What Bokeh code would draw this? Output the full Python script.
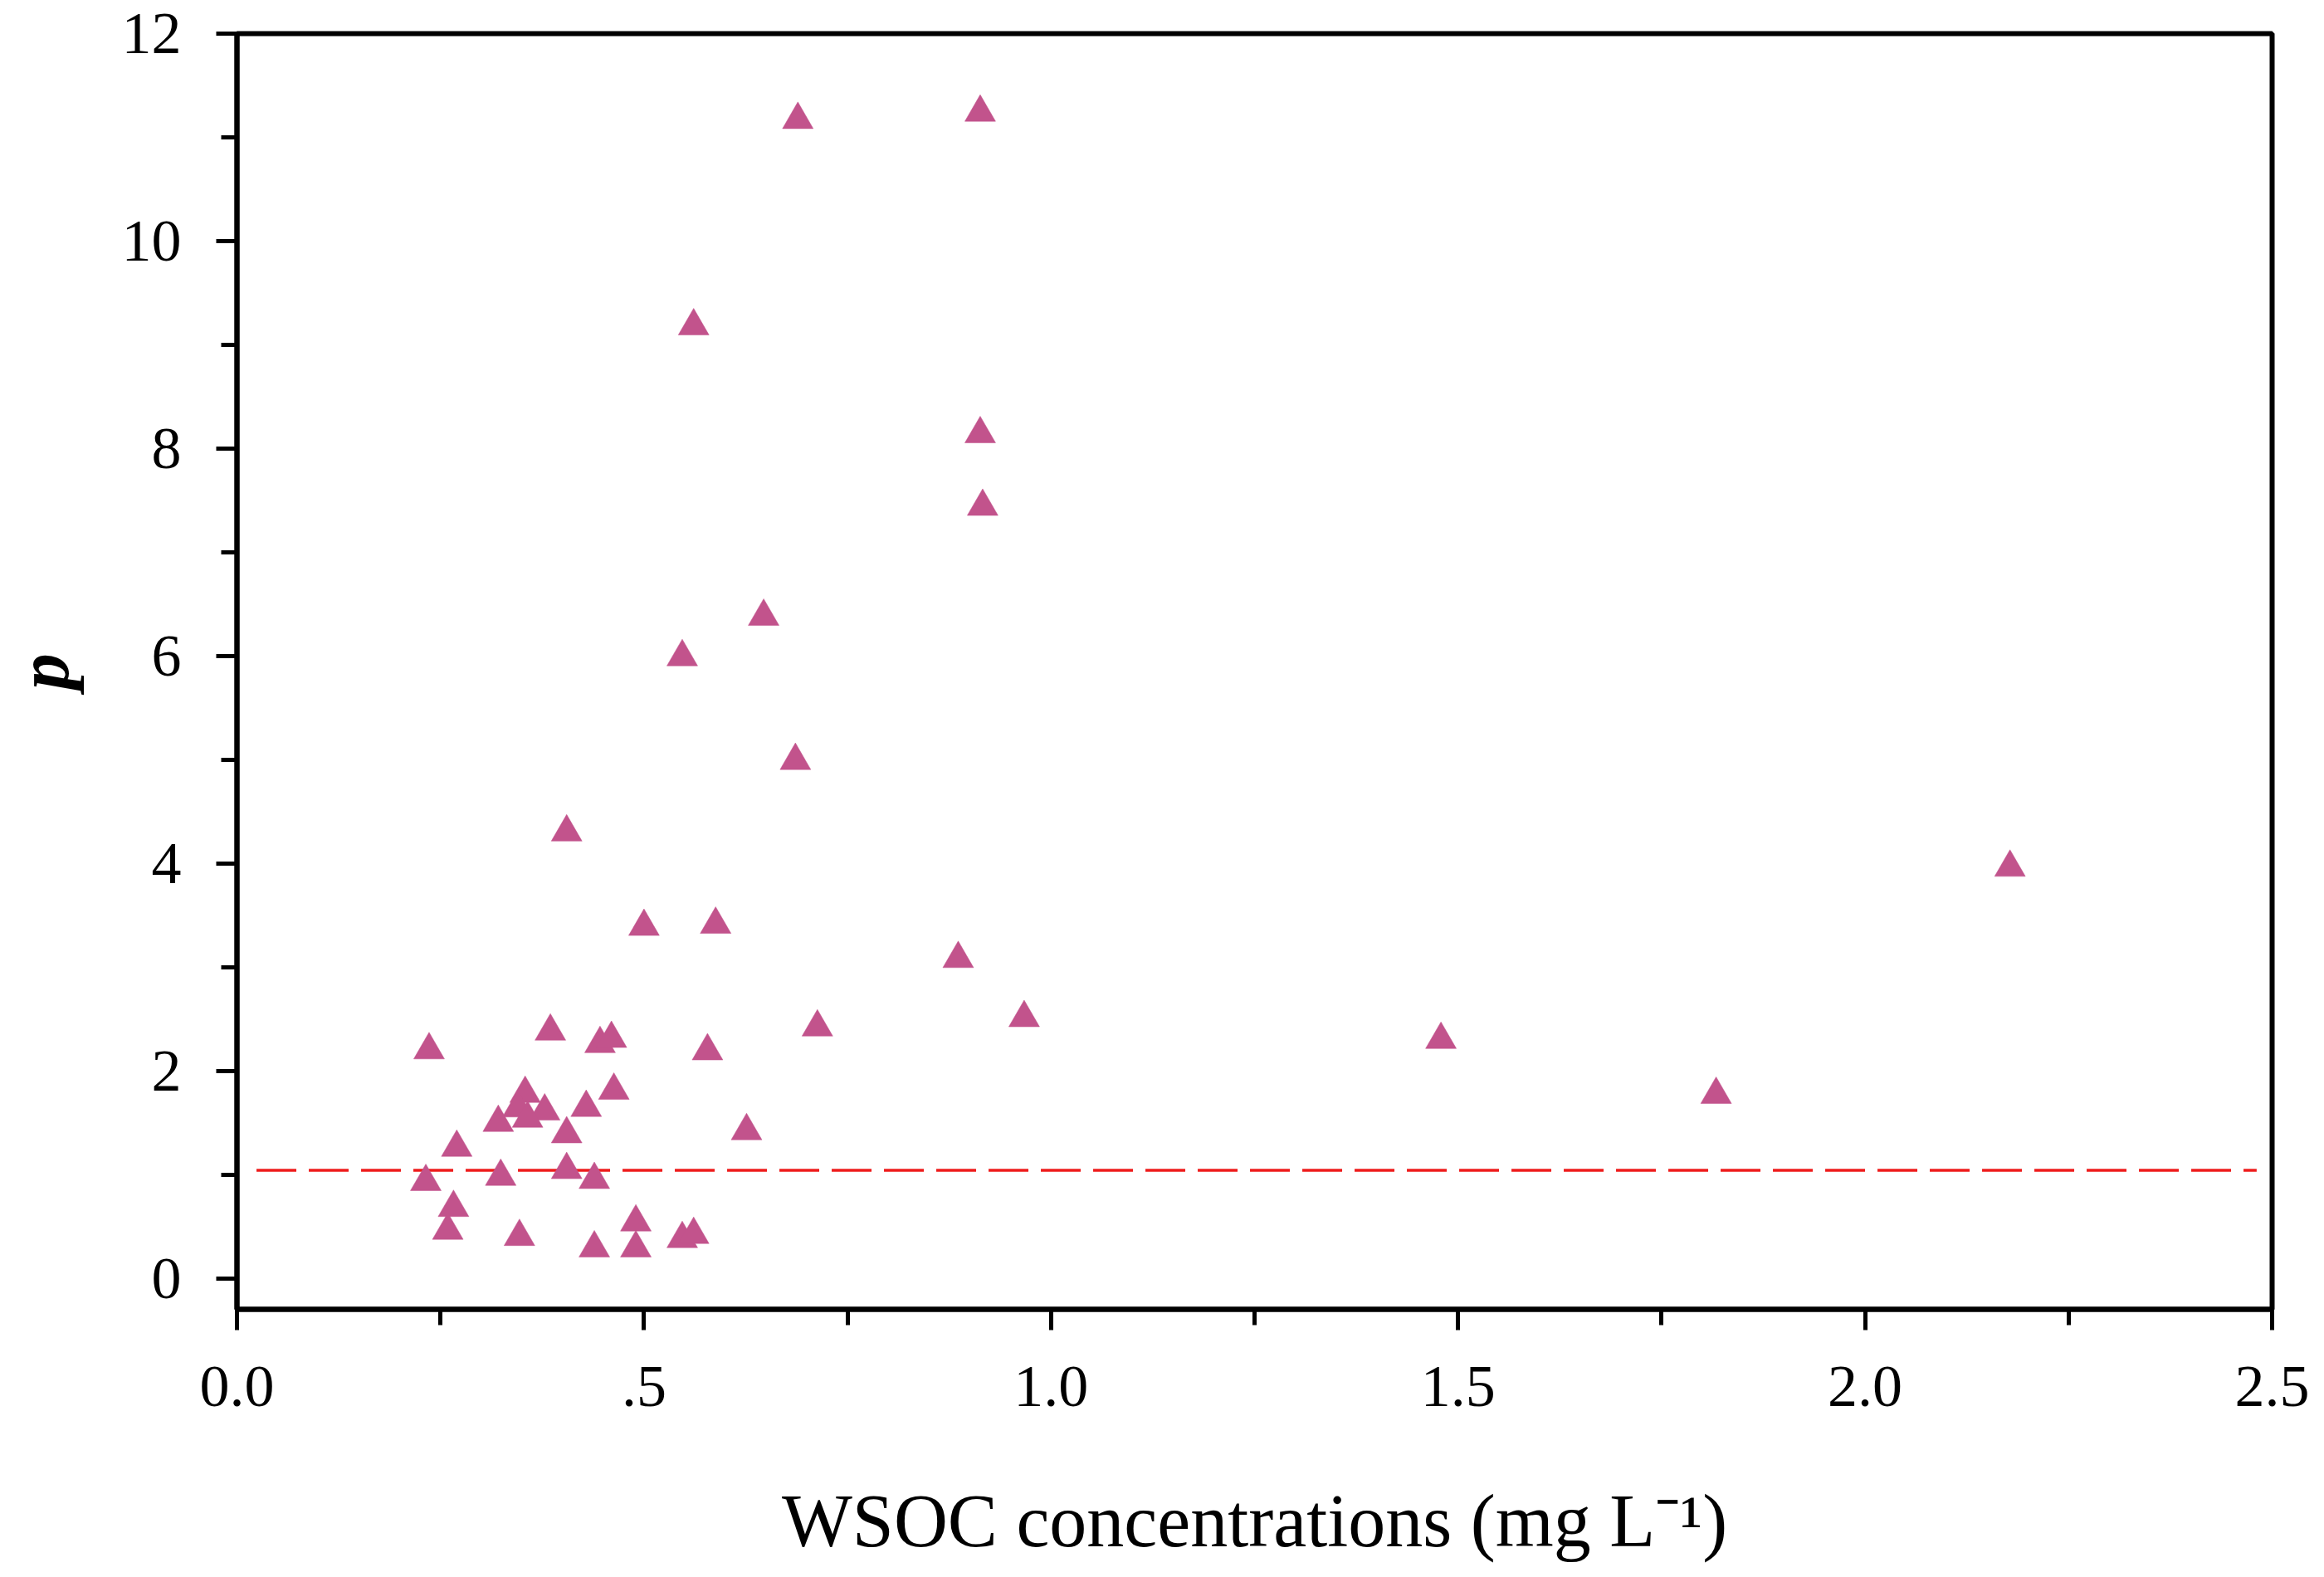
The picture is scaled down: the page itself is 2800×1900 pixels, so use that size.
from bokeh.plotting import figure
from bokeh.models import Range1d, FixedTicker
from bokeh.embed import file_html
from bokeh.resources import INLINE

# WSOC concentrations (mg L-1) and p values
wsoc = [0.689, 0.913, 0.561, 0.913, 0.916, 0.647, 0.547, 0.686, 0.405, 2.178,
        0.500, 0.588, 0.886, 0.967, 0.713, 0.236, 0.385, 0.446, 0.460, 0.578,
        1.479, 1.817, 0.463, 0.354, 0.429, 0.378, 0.345, 0.357, 0.321, 0.405,
        0.626, 0.270, 0.405, 0.324, 0.232, 0.439, 0.266, 0.259, 0.347, 0.490,
        0.439, 0.490, 0.547, 0.561]
p_vals = [11.17, 11.24, 9.18, 8.14, 7.44, 6.38, 5.99, 4.99, 4.30, 3.96,
          3.39, 3.41, 3.08, 2.51, 2.42, 2.20, 2.38, 2.26, 2.31, 2.19,
          2.30, 1.77, 1.81, 1.78, 1.645, 1.61, 1.64, 1.54, 1.50, 1.39,
          1.42, 1.26, 1.045, 0.98, 0.93, 0.95, 0.68, 0.46, 0.40, 0.54,
          0.29, 0.29, 0.38, 0.42]

# reference (dashed) line
ref_x = [0.024, 2.481]
ref_y = [1.04, 1.04]

x_major = [0.0, 0.5, 1.0, 1.5, 2.0, 2.5]
x_major_labels = ["0.0", ".5", "1.0", "1.5", "2.0", "2.5"]
x_minor = [0.25, 0.75, 1.25, 1.75, 2.25]
y_major = [0, 2, 4, 6, 8, 10, 12]
y_major_labels = ["0", "2", "4", "6", "8", "10", "12"]
y_minor = [1, 3, 5, 7, 9, 11]

x_title = "WSOC concentrations (mg L\u207b\u00b9)"
y_title = "p"

FONT = "Liberation Serif"
W, H = 2784, 1884

fig = figure(width=W, height=H, output_backend="svg", toolbar_location=None,
             x_range=Range1d(0, 2.5), y_range=Range1d(-0.3, 12),
             min_border_left=283, min_border_right=47,
             min_border_top=40, min_border_bottom=307)
fig.background_fill_color = "white"
fig.border_fill_color = "white"
fig.outline_line_color = "black"
fig.outline_line_width = 6
fig.xgrid.visible = False
fig.ygrid.visible = False

fig.xaxis.ticker = FixedTicker(ticks=x_major, minor_ticks=x_minor)
fig.xaxis.major_label_overrides = {t: s for t, s in zip(x_major, x_major_labels)}
fig.yaxis.ticker = FixedTicker(ticks=y_major, minor_ticks=y_minor)
fig.yaxis.major_label_overrides = {t: s for t, s in zip(y_major, y_major_labels)}

for ax in (fig.xaxis, fig.yaxis):
    ax.axis_line_width = 6
    ax.axis_line_color = "black"
    ax.major_tick_line_width = 5
    ax.minor_tick_line_width = 5
    ax.major_tick_line_color = "black"
    ax.minor_tick_line_color = "black"
    ax.major_tick_in = 0
    ax.minor_tick_in = 0
    ax.major_tick_out = 25
    ax.minor_tick_out = 19
    ax.major_label_text_font = FONT
    ax.major_label_text_font_size = "72px"
    ax.major_label_text_color = "black"
    ax.axis_label_text_font = FONT
    ax.axis_label_text_color = "black"

fig.xaxis.major_label_standoff = 44
fig.yaxis.major_label_standoff = 42

fig.xaxis.axis_label = x_title
fig.xaxis.axis_label_text_font_size = "90px"
fig.xaxis.axis_label_text_font_style = "normal"
fig.xaxis.axis_label_standoff = 86

fig.yaxis.axis_label = y_title
fig.yaxis.axis_label_text_font_size = "88px"
fig.yaxis.axis_label_text_font_style = "bold italic"
fig.yaxis.axis_label_standoff = 43

fig.line(ref_x, ref_y, line_color="#EE1C1C", line_width=3.5, line_dash="48 15")
fig.scatter(wsoc, p_vals, marker="triangle", size=37,
            fill_color="#C2538C", line_color="#C2538C", line_width=0.5)

open("out.html", "w").write(file_html(fig, INLINE))
